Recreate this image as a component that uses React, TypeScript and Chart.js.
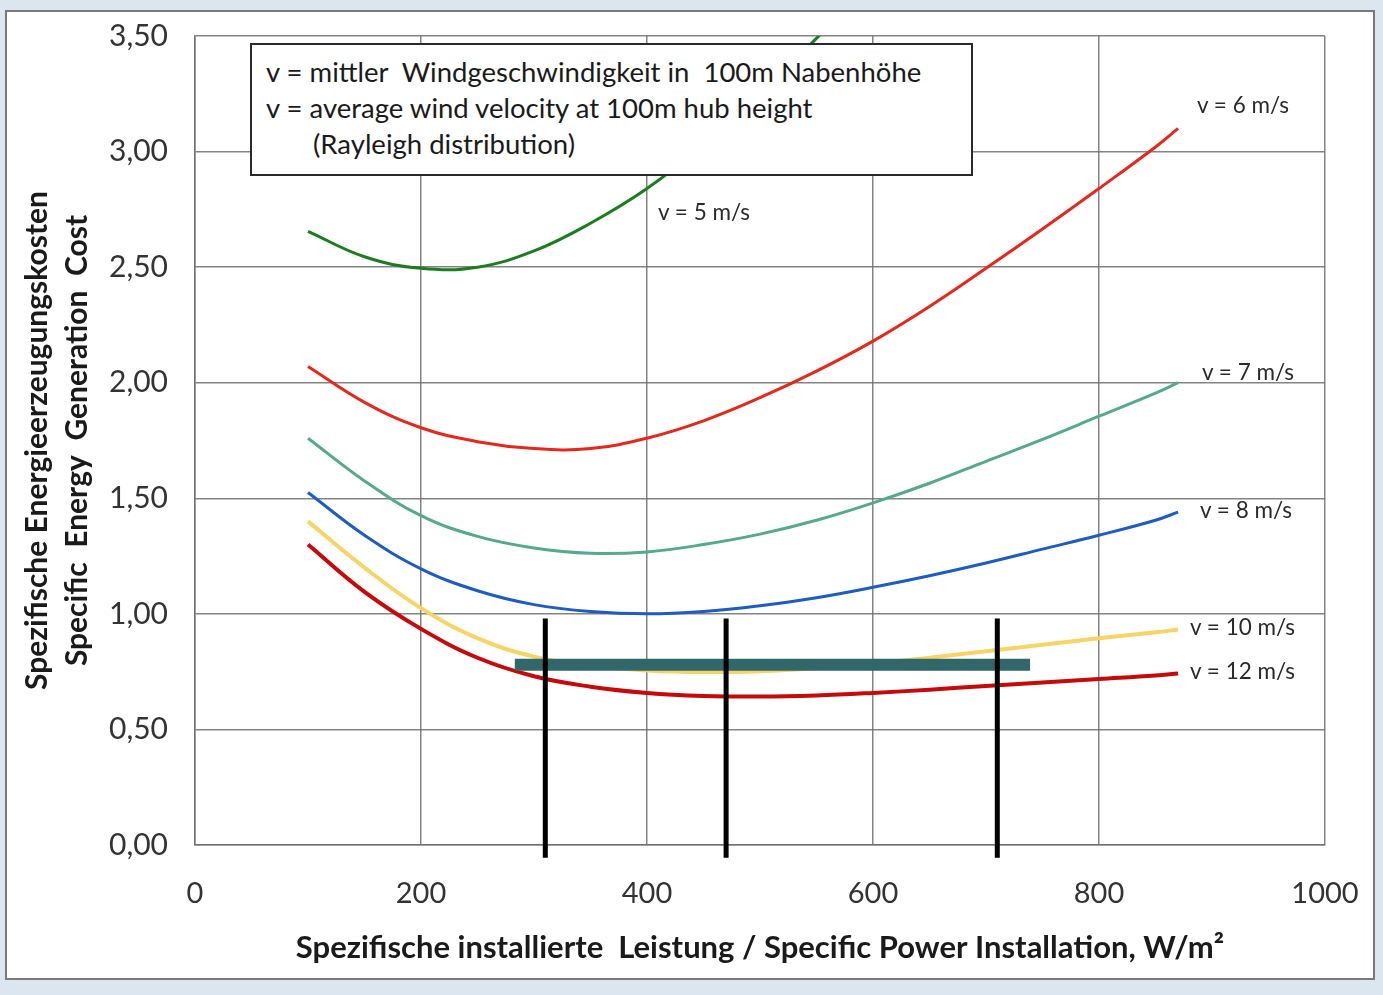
import React, { useEffect, useRef } from 'react';
import { Chart, registerables } from 'chart.js';

Chart.register(...registerables);

// ---- data ----
const xPoints = [100, 150, 200, 250, 300, 350, 400, 450, 500, 550, 600, 650, 700, 750, 800, 850, 870];
const v5X = [100, 150, 200, 250, 300, 350, 400, 450, 500, 550, 575];
const v5 = [2.655, 2.545, 2.495, 2.5, 2.57, 2.69, 2.84, 3.03, 3.25, 3.49, 3.62];
const v6 = [2.07, 1.915, 1.805, 1.745, 1.715, 1.715, 1.76, 1.835, 1.935, 2.05, 2.18, 2.33, 2.495, 2.665, 2.84, 3.02, 3.1];
const v7 = [1.76, 1.575, 1.425, 1.335, 1.285, 1.262, 1.268, 1.3, 1.345, 1.405, 1.48, 1.565, 1.66, 1.755, 1.855, 1.955, 2.0];
const v8 = [1.525, 1.34, 1.195, 1.1, 1.04, 1.01, 1.0, 1.01, 1.035, 1.07, 1.115, 1.165, 1.22, 1.28, 1.34, 1.405, 1.44];
const v10 = [1.4, 1.2, 1.025, 0.895, 0.815, 0.775, 0.755, 0.748, 0.752, 0.765, 0.785, 0.81, 0.838, 0.866, 0.894, 0.92, 0.932];
const v12 = [1.3, 1.095, 0.935, 0.81, 0.73, 0.685, 0.658, 0.645, 0.642, 0.647, 0.658, 0.672, 0.688, 0.703, 0.718, 0.733, 0.742];

const rangeBarX = [283, 739];
const rangeBarY = 0.78;
const markerX = [310, 470, 710];
const markerY = [0.98, -0.055];

const xTickLabels = ['0', '200', '400', '600', '800', '1000'];
const yTickLabels = ['0,00', '0,50', '1,00', '1,50', '2,00', '2,50', '3,00', '3,50'];
const xTitle = 'Spezifische installierte  Leistung / Specific Power Installation, W/m²';
const yTitle = ['Spezifische Energieerzeugungskosten', 'Specific  Energy  Generation  Cost'];
const legendLines = [
  'v = mittler  Windgeschwindigkeit in  100m Nabenhöhe',
  'v = average wind velocity at 100m hub height',
  '(Rayleigh distribution)',
];
const seriesLabels = ['v = 5 m/s', 'v = 6 m/s', 'v = 7 m/s', 'v = 8 m/s', 'v = 10 m/s', 'v = 12 m/s'];

const FONT = 'Lato, "Open Sans", sans-serif';
const gridColor = 'rgba(110,110,110,0.85)';

const toXY = (xs: number[], ys: number[]) => ys.map((y, i) => ({ x: xs[i], y }));

export default function App() {
  const canvasRef = useRef<HTMLCanvasElement | null>(null);

  useEffect(() => {
    if (!canvasRef.current) return;
    const curve = (data: any[], color: string, width = 3) => ({
      data,
      borderColor: color,
      borderWidth: width,
      pointRadius: 0,
      tension: 0.4,
      fill: false,
    });
    const markers = markerX.map((mx) => ({
      data: [
        { x: mx, y: markerY[0] },
        { x: mx, y: markerY[1] },
      ],
      borderColor: '#000000',
      borderWidth: 5,
      pointRadius: 0,
      tension: 0,
      clip: false as any,
      borderCapStyle: 'butt' as const,
    }));
    const zeroPad = (s: any) => {
      s.paddingTop = 0;
      s.paddingBottom = 0;
      s.paddingLeft = 0;
      s.paddingRight = 0;
    };
    const chart = new Chart(canvasRef.current, {
      type: 'line',
      data: {
        datasets: [
          ...markers,
          {
            data: rangeBarX.map((x) => ({ x, y: rangeBarY })),
            borderColor: '#316769',
            borderWidth: 12,
            pointRadius: 0,
            tension: 0,
            borderCapStyle: 'butt',
          },
          curve(toXY(xPoints, v12), '#c40a0a', 4),
          curve(toXY(xPoints, v10), '#f6d466', 4),
          curve(toXY(xPoints, v8), '#1d5cc2'),
          curve(toXY(xPoints, v7), '#55a98c'),
          curve(toXY(xPoints, v6), '#e5281c'),
          curve(toXY(v5X, v5), '#1b7d1f'),
        ] as any,
      },
      options: {
        responsive: false,
        animation: false,
        layout: { padding: { left: 5, top: 36, right: 58, bottom: 20 } },
        plugins: { legend: { display: false }, tooltip: { enabled: false } },
        scales: {
          x: {
            type: 'linear',
            min: 0,
            max: 1000,
            ticks: {
              stepSize: 200,
              padding: 31,
              maxRotation: 0,
              color: '#333',
              font: { family: FONT, size: 29 },
              callback: (v: any) => xTickLabels[Math.round(Number(v) / 200)] ?? '',
            },
            grid: { color: gridColor, lineWidth: 1.5, drawTicks: false },
            border: { color: gridColor, width: 1.5 },
            title: {
              display: true,
              text: xTitle,
              color: '#1a1a1a',
              font: { family: FONT, size: 31, weight: 'bold' },
              padding: { top: 0, bottom: 8 },
            },
            afterFit: (s: any) => {
              s.height = 130;
              zeroPad(s);
            },
          },
          y: {
            type: 'linear',
            min: 0,
            max: 3.5,
            ticks: {
              stepSize: 0.5,
              padding: 27,
              color: '#333',
              font: { family: FONT, size: 30 },
              callback: (v: any) => yTickLabels[Math.round(Number(v) / 0.5)] ?? '',
            },
            grid: { color: gridColor, lineWidth: 1.5, drawTicks: false },
            border: { color: gridColor, width: 1.5 },
            title: {
              display: true,
              text: yTitle,
              color: '#1a1a1a',
              font: { family: FONT, size: 30, weight: 'bold', lineHeight: 1.333 },
              padding: { top: 12, bottom: 0 },
            },
            afterFit: (s: any) => {
              s.width = 190;
              zeroPad(s);
            },
          },
        },
      } as any,
    });
    return () => chart.destroy();
  }, []);

  const labelPos = [
    { left: 658, cy: 212 },
    { left: 1197, cy: 105 },
    { left: 1202, cy: 372 },
    { left: 1200, cy: 510 },
    { left: 1190, cy: 627 },
    { left: 1190, cy: 671 },
  ];

  return (
    <div
      style={{
        position: 'fixed',
        left: 0,
        top: 0,
        width: 1383,
        height: 995,
        background: '#dce6f0',
        overflow: 'hidden',
        fontFamily: FONT,
      }}
    >
      <div
        style={{
          position: 'absolute',
          left: 5,
          top: 10,
          width: 1370,
          height: 970,
          boxSizing: 'border-box',
          background: '#ffffff',
          border: '2px solid #7a7a7a',
        }}
      />
      <canvas
        ref={canvasRef}
        width={1383}
        height={995}
        style={{ position: 'absolute', left: 0, top: 0, width: 1383, height: 995 }}
      />
      <div
        style={{
          position: 'absolute',
          left: 250,
          top: 43,
          width: 723,
          height: 133,
          boxSizing: 'border-box',
          border: '2px solid #2a2a2a',
          background: '#ffffff',
          paddingTop: 9,
          paddingLeft: 14,
          fontSize: 27.5,
          lineHeight: '36px',
          color: '#1a1a1a',
          whiteSpace: 'pre',
        }}
      >
        <div>{legendLines[0]}</div>
        <div>{legendLines[1]}</div>
        <div style={{ paddingLeft: 47 }}>{legendLines[2]}</div>
      </div>
      {seriesLabels.map((t, i) => (
        <div
          key={t}
          style={{
            position: 'absolute',
            left: labelPos[i].left,
            top: labelPos[i].cy - 13,
            fontSize: 22.5,
            lineHeight: '26px',
            color: '#2a2a2a',
            whiteSpace: 'nowrap',
          }}
        >
          {t}
        </div>
      ))}
    </div>
  );
}
